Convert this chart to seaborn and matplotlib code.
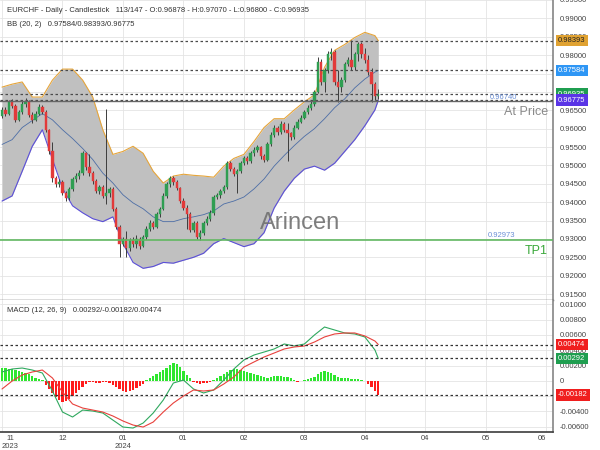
import numpy as np
import matplotlib
matplotlib.use("Agg")
import matplotlib.pyplot as plt
import matplotlib.transforms as mtransforms
import seaborn as sns

# ---------------- data ----------------
first_open = 0.9635
closes = [
    0.9651, 0.9640, 0.9673, 0.9662, 0.9624, 0.9646, 0.9667, 0.9673, 0.9638, 0.9624,
    0.9640, 0.9659, 0.9646, 0.9597, 0.9538, 0.9465, 0.9449, 0.9455, 0.9425, 0.9411,
    0.9436, 0.9463, 0.9471, 0.9479, 0.9533, 0.9495, 0.9479, 0.9457, 0.9430, 0.9441,
    0.9417, 0.9425, 0.9436, 0.9382, 0.9333, 0.9287, 0.9301, 0.9274, 0.9296, 0.9285,
    0.9301, 0.9282, 0.9306, 0.9328, 0.9344, 0.9333, 0.9368, 0.9382, 0.9417, 0.9449,
    0.9465, 0.9455, 0.9438, 0.9403, 0.9385, 0.9368, 0.9325, 0.9344, 0.9306, 0.9317,
    0.9344, 0.9355, 0.9371, 0.9414, 0.9419, 0.9430, 0.9441, 0.9506, 0.9490, 0.9476,
    0.9484, 0.9506, 0.9519, 0.9511, 0.9533, 0.9543, 0.9549, 0.9525, 0.9516, 0.9557,
    0.9584, 0.9603, 0.9590, 0.9613, 0.9597, 0.9587, 0.9576, 0.9603, 0.9619, 0.9630,
    0.9646, 0.9657, 0.9667, 0.9700, 0.9781, 0.9727, 0.9759, 0.9802, 0.9808, 0.9727,
    0.9713, 0.9732, 0.9775, 0.9786, 0.9767, 0.9802, 0.9829, 0.9802, 0.9786, 0.9754,
    0.9721, 0.96878, 0.96935]
highs = [
    0.9658, 0.9660, 0.9678, 0.9680, 0.9668, 0.9652, 0.9674, 0.9684, 0.9678, 0.9645,
    0.9648, 0.9666, 0.9664, 0.9650, 0.9600, 0.9565, 0.9472, 0.9462, 0.9460, 0.9430,
    0.9442, 0.9468, 0.9480, 0.9488, 0.9540, 0.9537, 0.9530, 0.9484, 0.9462, 0.9448,
    0.9446, 0.9654, 0.9442, 0.9440, 0.9386, 0.9338, 0.9306, 0.9322, 0.9302, 0.9304,
    0.9310, 0.9306, 0.9312, 0.9334, 0.9351, 0.9350, 0.9374, 0.9388, 0.9424, 0.9456,
    0.9472, 0.9470, 0.9460, 0.9442, 0.9410, 0.9392, 0.9372, 0.9350, 0.9348, 0.9324,
    0.9350, 0.9362, 0.9378, 0.9420, 0.9426, 0.9437, 0.9448, 0.9512, 0.9512, 0.9495,
    0.9490, 0.9512, 0.9526, 0.9525, 0.9540, 0.9550, 0.9556, 0.9554, 0.9530, 0.9563,
    0.9590, 0.9610, 0.9608, 0.9620, 0.9618, 0.9616, 0.9592, 0.9609, 0.9625, 0.9636,
    0.9652, 0.9663, 0.9674, 0.9706, 0.9795, 0.9790, 0.9765, 0.9812, 0.9820, 0.9814,
    0.9760, 0.9740, 0.9781, 0.9794, 0.9842, 0.9808, 0.9835, 0.9836, 0.9820, 0.9800,
    0.9765, 0.9726, 0.9707]
lows = [
    0.9630, 0.9634, 0.9636, 0.9655, 0.9618, 0.9620, 0.9640, 0.9660, 0.9632, 0.9616,
    0.9620, 0.9636, 0.9640, 0.9592, 0.9530, 0.9455, 0.9442, 0.9440, 0.9420, 0.9404,
    0.9406, 0.9430, 0.9455, 0.9462, 0.9475, 0.9488, 0.9470, 0.9450, 0.9424, 0.9422,
    0.9410, 0.9395, 0.9415, 0.9376, 0.9326, 0.9250, 0.9280, 0.9250, 0.9268, 0.9278,
    0.9276, 0.9272, 0.9278, 0.9300, 0.9322, 0.9326, 0.9330, 0.9360, 0.9378, 0.9412,
    0.9442, 0.9448, 0.9432, 0.9398, 0.9378, 0.9328, 0.9318, 0.9320, 0.9300, 0.9298,
    0.9312, 0.9338, 0.9350, 0.9366, 0.9408, 0.9412, 0.9424, 0.9436, 0.9484, 0.9470,
    0.9425, 0.9478, 0.9500, 0.9505, 0.9506, 0.9526, 0.9536, 0.9518, 0.9510, 0.9512,
    0.9552, 0.9578, 0.9584, 0.9585, 0.9590, 0.9511, 0.9570, 0.9572, 0.9598, 0.9614,
    0.9625, 0.9640, 0.9652, 0.9662, 0.9696, 0.9720, 0.9700, 0.9752, 0.9786, 0.9720,
    0.9673, 0.9700, 0.9727, 0.9770, 0.9760, 0.9760, 0.9784, 0.9792, 0.9778, 0.9745,
    0.9673, 0.9678, 0.9680]
opens = [first_open] + closes[:-1]

# Bollinger band (20, 2) read every 3rd bar
bb_idx = list(range(0, 112, 3)) + [112]
bb_upper = [0.9713, 0.9721, 0.9727, 0.9686, 0.9686, 0.9732, 0.9762, 0.9762, 0.9732, 0.9686,
            0.9597, 0.9530, 0.9538, 0.9552, 0.9533, 0.9484, 0.9452, 0.9471, 0.9476, 0.9473,
            0.9471, 0.9468, 0.9498, 0.9519, 0.9530, 0.9565, 0.9603, 0.9627, 0.9627, 0.9651,
            0.9673, 0.9692, 0.9767, 0.9813, 0.9829, 0.9848, 0.9862, 0.9853, 0.98393]
bb_mid = [0.9557, 0.9570, 0.9603, 0.9622, 0.9641, 0.9624, 0.9597, 0.9573, 0.9546, 0.9516,
          0.9479, 0.9452, 0.9420, 0.9398, 0.9382, 0.9360, 0.9347, 0.9347, 0.9355, 0.9360,
          0.9366, 0.9376, 0.9395, 0.9403, 0.9414, 0.9436, 0.9463, 0.9498, 0.9527, 0.9554,
          0.9579, 0.9600, 0.9627, 0.9657, 0.9681, 0.9711, 0.9735, 0.9754, 0.97584]
bb_lower = [0.9403, 0.9417, 0.9484, 0.9552, 0.9597, 0.9517, 0.9438, 0.9390, 0.9371, 0.9355,
            0.9347, 0.9360, 0.9287, 0.9236, 0.9220, 0.9225, 0.9236, 0.9234, 0.9242, 0.9250,
            0.9261, 0.9287, 0.9301, 0.9290, 0.9279, 0.9287, 0.9317, 0.9384, 0.9430, 0.9465,
            0.9490, 0.9498, 0.9487, 0.9506, 0.9538, 0.9570, 0.9608, 0.9651, 0.96775]

# MACD (12, 26, 9)
macd_line = [0.00115, 0.00154, 0.00167, 0.00141, 0.00102, -0.00133, -0.00408, -0.00473, -0.00382, -0.00395,
             -0.00421, -0.00513, -0.00604, -0.00617, -0.00552, -0.00421, -0.00251, -0.00029, 0.00010, -0.00107,
             -0.00159, -0.00120, 0.00010, 0.00154, 0.00272, 0.00337, 0.00376, 0.00416, 0.00481, 0.00455,
             0.00481, 0.00599, 0.00703, 0.00664, 0.00625, 0.00612, 0.00573, 0.00403, 0.00292]
signal_line = [-0.00107, -0.00003, 0.00076, 0.00115, 0.00141, 0.00037, -0.00146, -0.00303, -0.00356, -0.00382,
               -0.00408, -0.00460, -0.00525, -0.00578, -0.00604, -0.00539, -0.00408, -0.00290, -0.00199, -0.00120,
               -0.00133, -0.00120, -0.00042, 0.00050, 0.00180, 0.00246, 0.00311, 0.00363, 0.00416, 0.00442,
               0.00455, 0.00507, 0.00573, 0.00612, 0.00625, 0.00625, 0.00586, 0.00520, 0.00474]
hist = [
    0.00167, 0.00167, 0.00154, 0.00154, 0.00141, 0.00128, 0.00115, 0.00102, 0.00089, 0.00063,
    0.00037, 0.00024, 0.00010, -0.00055, -0.00107, -0.00159, -0.00212, -0.00251, -0.00277, -0.00264,
    -0.00238, -0.00199, -0.00159, -0.00120, -0.00081, -0.00042, -0.00016, -0.00022, -0.00029, -0.00029,
    -0.00016, -0.00016, -0.00029, -0.00055, -0.00081, -0.00107, -0.00133, -0.00146, -0.00133, -0.00120,
    -0.00094, -0.00068, -0.00042, 0.00010, 0.00037, 0.00063, 0.00089, 0.00115, 0.00141, 0.00167,
    0.00207, 0.00233, 0.00220, 0.00180, 0.00128, 0.00076, 0.00037, -0.00016, -0.00029, -0.00042,
    -0.00035, -0.00029, -0.00016, 0.00010, 0.00037, 0.00063, 0.00089, 0.00115, 0.00141, 0.00154,
    0.00154, 0.00141, 0.00128, 0.00115, 0.00102, 0.00089, 0.00076, 0.00063, 0.00050, 0.00037,
    0.00050, 0.00063, 0.00063, 0.00063, 0.00050, 0.00050, 0.00037, 0.00010, -0.00016, -0.00003,
    0.00010, 0.00024, 0.00037, 0.00050, 0.00089, 0.00115, 0.00128, 0.00115, 0.00102, 0.00076,
    0.00050, 0.00037, 0.00037, 0.00037, 0.00024, 0.00024, 0.00024, 0.00010, -0.00003, -0.00042,
    -0.00081, -0.00133, -0.00182]

tick_pos = [0, 18, 36, 54, 72, 90, 108, 126, 144, 162]
tick_labels = ["11\n2023", "12", "01\n2024", "01", "02", "03", "04", "04", "05", "06"]

price_levels = [0.98393, 0.97584, 0.96935, 0.96775]
price_level_labels = ["0.98393", "0.97584", "0.96935", "0.96775"]
price_level_colors = ["#e0a232", "#2e96f5", "#1f9e50", "#5a35e6"]
price_level_text = ["#222222", "white", "white", "white"]
at_price = 0.96740
tp1 = 0.92973
macd_levels = [0.00474, 0.00292, -0.00182]
macd_level_labels = ["0.00474", "0.00292", "-0.00182"]
macd_level_colors = ["#f01e1e", "#1f9e50", "#f01e1e"]

# ---------------- style ----------------
sns.set_theme(style="white")
plt.rcParams['font.family'] = ['Liberation Sans', 'DejaVu Sans']

fig = plt.figure(figsize=(6, 4.5), dpi=100)
W, H = 600.0, 450.0
ax = fig.add_axes([0, 1 - 300 / H, 553 / W, 300 / H])
ax2 = fig.add_axes([0, 1 - 432 / H, 553 / W, 132 / H], sharex=ax)

n = len(closes)
idx = np.arange(n)
o = np.array(opens); c = np.array(closes); h = np.array(highs); l = np.array(lows)

# BB
ax.fill_between(bb_idx, bb_lower, bb_upper, color="#c0c0c0", linewidth=0, zorder=1)
sns.lineplot(x=bb_idx, y=bb_upper, ax=ax, color="#e6a53a", linewidth=0.8, zorder=2)
sns.lineplot(x=bb_idx, y=bb_lower, ax=ax, color="#5b4fd9", linewidth=0.8, zorder=2)
sns.lineplot(x=bb_idx, y=bb_mid, ax=ax, color="#4d6ea6", linewidth=0.6, zorder=2)

# candles
up = c >= o
col = np.where(up, "#2f9e52", "#e23a3a")
ax.vlines(idx, l, h, color="#3c3c3c", linewidth=0.7, zorder=3)
body_b = np.minimum(o, c)
body_h = np.maximum(np.abs(c - o), 0.00008)
ax.bar(idx, body_h, bottom=body_b, width=0.7, color=col, edgecolor=col, linewidth=0.3, zorder=4)

# level lines
for lv in price_levels:
    ax.axhline(lv, color="#4a4a4a", linewidth=0.9, linestyle=(0, (2, 2)), zorder=5)
ax.axhline(at_price, color="#666666", linewidth=1.0, zorder=5)
ax.axhline(tp1, color="#62b862", linewidth=1.2, zorder=5)

ax.set_xlim(-0.6, 164.0)
ax.set_ylim(0.91338, 0.99423)
ax.set_yticks(np.arange(0.915, 0.9951, 0.005))
ax.yaxis.tick_right()
ax.yaxis.set_major_formatter(matplotlib.ticker.FuncFormatter(lambda v, p: f"{v:.5f}"))
ax.tick_params(axis='y', labelsize=5.5, length=0, pad=5, colors="#444444")
ax.tick_params(axis='x', labelbottom=False, length=0)
ax.set_xticks(tick_pos)
ax.grid(True, color="#e4e4e4", linewidth=0.6)
ax.set_axisbelow(True)
for s in ["top", "left"]:
    ax.spines[s].set_visible(False)
ax.spines["right"].set_color("#8a8a8a")
ax.spines["bottom"].set_color("#555555")
ax.spines["bottom"].set_linewidth(1.0)
ax.set_xlabel(""); ax.set_ylabel("")

trans = mtransforms.blended_transform_factory(ax.transAxes, ax.transData)
for lv, lab, fc, tc in zip(price_levels, price_level_labels, price_level_colors, price_level_text):
    ax.text(1.009, lv, lab, transform=trans, ha='left', va='center', fontsize=5.5, color=tc,
            bbox=dict(boxstyle='square,pad=0.3', fc=fc, ec='none'), clip_on=False, zorder=10)

ax.text(0.886, at_price + 0.0002, "0.96740", transform=trans, ha='left', va='bottom',
        fontsize=5.5, color="#6b8fd6", zorder=6)
ax.text(0.991, 0.627, "At Price", transform=ax.transAxes, ha='right', va='center',
        fontsize=9, color="#8a8a8a", zorder=6)
ax.text(0.882, tp1 + 0.0003, "0.92973", transform=trans, ha='left', va='bottom',
        fontsize=5.5, color="#6b8fd6", zorder=6)
ax.text(0.991, 0.163, "TP1", transform=ax.transAxes, ha='right', va='center',
        fontsize=9, color="#3aa83a", zorder=6)
ax.text(300 / 553, 1 - 223 / 300, "Arincen", transform=ax.transAxes, ha='center', va='center',
        fontsize=17, color="#707070", alpha=0.9, zorder=6)

fig.text(7 / W, 1 - 10.5 / H, "EURCHF - Daily - Candlestick   113/147 - O:0.96878 - H:0.97070 - L:0.96800 - C:0.96935",
         ha='left', va='center', fontsize=5.5, color="#333333")
fig.text(7 / W, 1 - 25 / H, "BB (20, 2)   0.97584/0.98393/0.96775",
         ha='left', va='center', fontsize=5.5, color="#333333")

# ---------------- MACD ----------------
hcol = np.where(np.array(hist) >= 0, "#2fe62f", "#ff1c1c")
ax2.bar(idx, hist, width=0.7, color=hcol, linewidth=0, zorder=2)
sns.lineplot(x=bb_idx, y=macd_line, ax=ax2, color="#2fa85e", linewidth=0.8, zorder=3)
sns.lineplot(x=bb_idx, y=signal_line, ax=ax2, color="#e8413c", linewidth=0.8, zorder=3)
for lv in macd_levels:
    ax2.axhline(lv, color="#333333", linewidth=0.9, linestyle=(0, (2, 2)), zorder=4)

ax2.set_ylim(-0.00669, 0.01056)
ax2.set_yticks([0.01, 0.008, 0.006, 0.004, 0.002, 0.0, -0.002, -0.004, -0.006])
ax2.yaxis.tick_right()
ax2.yaxis.set_major_formatter(matplotlib.ticker.FuncFormatter(
    lambda v, p: "0" if abs(v) < 1e-9 else f"{v:.5f}"))
ax2.tick_params(axis='y', labelsize=5.5, length=0, pad=5, colors="#444444")
ax2.set_xticks(tick_pos)
ax2.set_xticklabels(tick_labels)
ax2.tick_params(axis='x', labelsize=5.5, length=0, pad=2, colors="#444444")
lbls = ax2.get_xticklabels()
lbls[0].set_ha('left'); lbls[0].set_multialignment('center')
lbls[-1].set_ha('right')
ax2.grid(True, color="#e4e4e4", linewidth=0.6)
ax2.set_axisbelow(True)
for s in ["top", "left"]:
    ax2.spines[s].set_visible(False)
ax2.spines["right"].set_color("#8a8a8a")
ax2.spines["bottom"].set_color("#444444")
ax2.set_xlabel(""); ax2.set_ylabel("")

trans2 = mtransforms.blended_transform_factory(ax2.transAxes, ax2.transData)
for lv, lab, fc in zip(macd_levels, macd_level_labels, macd_level_colors):
    ax2.text(1.009, lv, lab, transform=trans2, ha='left', va='center', fontsize=5.5, color="white",
             bbox=dict(boxstyle='square,pad=0.3', fc=fc, ec='none'), clip_on=False, zorder=10)
ax2.text(7 / 553, 1 - 11 / 132, "MACD (12, 26, 9)   0.00292/-0.00182/0.00474", transform=ax2.transAxes,
         ha='left', va='center', fontsize=5.5, color="#333333")

fig.savefig("out.png", dpi=100)
